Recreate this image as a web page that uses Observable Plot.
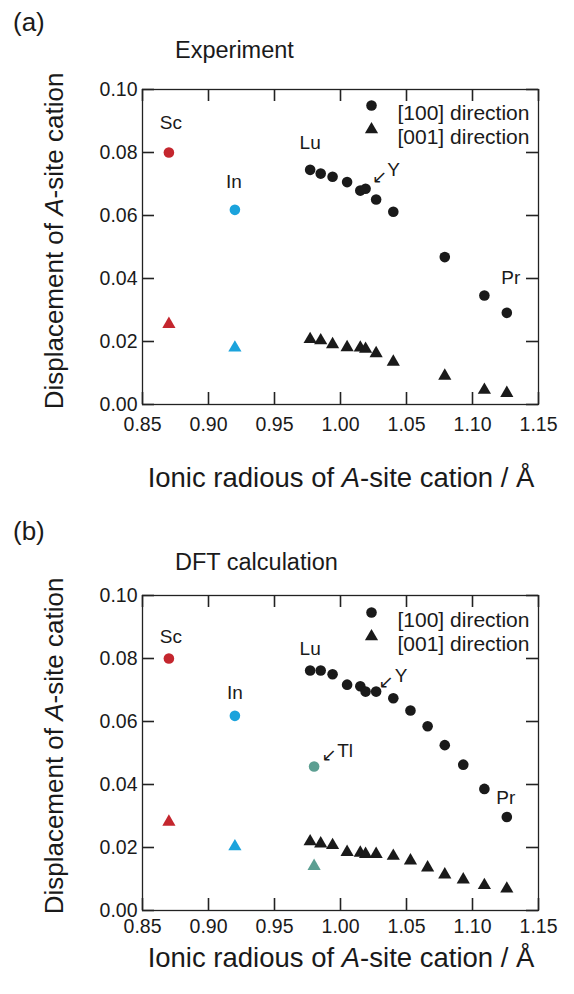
<!DOCTYPE html>
<html><head><meta charset="utf-8">
<script src="https://cdn.jsdelivr.net/npm/d3@7"></script>
<script src="https://cdn.jsdelivr.net/npm/@observablehq/plot@0.6"></script>
<style>
html,body{margin:0;padding:0;background:#fff;}
#chart svg{display:block;}
</style></head><body><div id="chart"></div>
<script>
// ---------- shared axis data ----------
const xTicks = [0.85, 0.90, 0.95, 1.00, 1.05, 1.10, 1.15];
const yTicks = [0.00, 0.02, 0.04, 0.06, 0.08, 0.10];
const legendLabels = ["[100] direction", "[001] direction"];

// ---------- panel (a) Experiment ----------
const radiusA = [0.977, 0.985, 0.994, 1.005, 1.015, 1.019, 1.027, 1.040, 1.079, 1.109, 1.126];
const dir100A = [0.0745, 0.0733, 0.0723, 0.0706, 0.0679, 0.0685, 0.0651, 0.0612, 0.0468, 0.0346, 0.0291];
const dir001A = [0.0207, 0.0203, 0.0191, 0.0181, 0.0180, 0.0176, 0.0162, 0.0135, 0.0091, 0.0046, 0.0036];
const specialNamesA = ["Sc", "In"];
const specialRadiusA = [0.870, 0.920];
const special100A = [0.0800, 0.0618];
const special001A = [0.0255, 0.0180];
const annotNamesA = ["Sc", "In", "Lu", "Y", "Pr"];
const annotRadiusA = [0.870, 0.920, 0.977, 1.019, 1.126];

// ---------- panel (b) DFT calculation ----------
const radiusB = [0.977, 0.985, 0.994, 1.005, 1.015, 1.019, 1.027, 1.040, 1.053, 1.066, 1.079, 1.093, 1.109, 1.126];
const dir100B = [0.0762, 0.0762, 0.0750, 0.0717, 0.0712, 0.0695, 0.0695, 0.0674, 0.0635, 0.0585, 0.0525, 0.0463, 0.0386, 0.0297];
const dir001B = [0.0219, 0.0212, 0.0207, 0.0185, 0.0183, 0.0179, 0.0179, 0.0173, 0.0158, 0.0136, 0.0114, 0.0098, 0.0080, 0.0069];
const specialNamesB = ["Sc", "In", "Tl"];
const specialRadiusB = [0.870, 0.920, 0.980];
const special100B = [0.0800, 0.0618, 0.0457];
const special001B = [0.0281, 0.0203, 0.0141];
const annotNamesB = ["Sc", "In", "Lu", "Y", "Tl", "Pr"];
const annotRadiusB = [0.870, 0.920, 0.977, 1.027, 0.980, 1.126];

// ---------- styles ----------
const FONT = "'Liberation Sans', Arial, Helvetica, sans-serif";
const palette = {Sc: "#c4262e", In: "#1ba3dc", Tl: "#5c9f92"};
const INK = "#1a1a1a";
const LINE = "#222";
const W = 574, H = 497, ML = 142, MR = 36, TICK = 12;

function panel(cfg) {
  const fw = W - ML - MR;
  const fh = H - cfg.mt - cfg.mb;
  const allR = cfg.radius.concat(cfg.sRadius);
  const all100 = cfg.d100.concat(cfg.s100);
  const annot = cfg.annotNames.map((name, i) => {
    const r = cfg.annotRadius[i];
    const j = allR.indexOf(r);
    return {name, x: r, y: all100[j]};
  });
  const idx = d3.range(cfg.radius.length);
  const sidx = d3.range(cfg.sNames.length);
  const fmt = d3.format(".2f");
  const marks = [
    Plot.frame({stroke: LINE, strokeWidth: 1.3}),
    // inward ticks on all four sides
    Plot.ruleX(xTicks, {x: d => d, insetTop: fh - TICK, stroke: LINE, strokeWidth: 1.6}),
    Plot.ruleX(xTicks, {x: d => d, insetBottom: fh - TICK, stroke: LINE, strokeWidth: 1.6}),
    Plot.ruleY(yTicks, {y: d => d, insetRight: fw - TICK, stroke: LINE, strokeWidth: 1.6}),
    Plot.ruleY(yTicks, {y: d => d, insetLeft: fw - TICK, stroke: LINE, strokeWidth: 1.6}),
    // tick labels
    Plot.axisX(xTicks, {anchor: "bottom", tickSize: 0, tickPadding: cfg.xPad, tickFormat: fmt, label: null, fill: INK}),
    Plot.axisY(yTicks, {anchor: "left", tickSize: 0, tickPadding: 5, tickFormat: fmt, label: null, fill: INK}),
    // [100] circles and [001] triangles
    Plot.dot(idx, {x: i => cfg.radius[i], y: i => cfg.d100[i], symbol: "circle", r: 5.3, fill: INK}),
    Plot.dot(idx, {x: i => cfg.radius[i], y: i => cfg.d001[i], symbol: "triangle", r: 4.9, fill: INK}),
    Plot.dot(sidx, {x: i => cfg.sRadius[i], y: i => cfg.s100[i], symbol: "circle", r: 5.3, fill: i => palette[cfg.sNames[i]]}),
    Plot.dot(sidx, {x: i => cfg.sRadius[i], y: i => cfg.s001[i], symbol: "triangle", r: 4.9, fill: i => palette[cfg.sNames[i]]}),
    // legend
    Plot.dot([legendLabels[0]], {frameAnchor: "top-right", dx: -167, dy: cfg.legDy[0], symbol: "circle", r: 5.3, fill: INK}),
    Plot.dot([legendLabels[1]], {frameAnchor: "top-right", dx: -167, dy: cfg.legDy[1], symbol: "triangle", r: 4.9, fill: INK}),
    Plot.text([legendLabels[0]], {frameAnchor: "top-right", dx: -141, dy: cfg.legDy[0], text: d => d, textAnchor: "start", fontSize: 21, fill: INK}),
    Plot.text([legendLabels[1]], {frameAnchor: "top-right", dx: -141, dy: cfg.legDy[1], text: d => d, textAnchor: "start", fontSize: 21, fill: INK})
  ];
  for (const a of annot) {
    const [dx, dy] = cfg.offsets[a.name];
    marks.push(Plot.text([a], {x: "x", y: "y", text: "name", dx, dy, fontSize: 19, fill: INK}));
    if (cfg.arrows[a.name]) {
      const [ax, ay] = cfg.arrows[a.name];
      marks.push(Plot.text([a], {x: "x", y: "y", text: () => "\u2199", dx: ax, dy: ay, fontSize: 18, fontFamily: "DejaVu Sans", fill: INK}));
    }
  }
  const svg = Plot.plot({
    width: W, height: H,
    marginLeft: ML, marginRight: MR, marginTop: cfg.mt, marginBottom: cfg.mb,
    x: {domain: [0.85, 1.15]},
    y: {domain: [0, 0.10]},
    style: {fontFamily: FONT, fontSize: "19.5px", background: "#fff"},
    marks
  });
  const s = d3.select(svg);
  const g = s.append("g").attr("font-family", FONT).attr("fill", INK).attr("text-anchor", "start");
  g.append("text").attr("x", 13).attr("y", cfg.letterY).attr("font-size", 26).attr("text-anchor", "start").text(cfg.letter);
  g.append("text").attr("x", 175).attr("y", cfg.titleY).attr("font-size", 23.5).attr("text-anchor", "start").text(cfg.title);
  const xl = g.append("text").attr("x", 341).attr("y", cfg.xLabY).attr("font-size", 27.5).attr("text-anchor", "middle");
  xl.append("tspan").text("Ionic radious of ");
  xl.append("tspan").attr("font-style", "italic").text("A");
  xl.append("tspan").text("-site cation / \u00c5");
  const yl = g.append("text").attr("transform", `translate(63,${cfg.yLabY}) rotate(-90)`).attr("font-size", 26).attr("text-anchor", "middle");
  yl.append("tspan").text("Displacement of ");
  yl.append("tspan").attr("font-style", "italic").text("A");
  yl.append("tspan").text("-site cation");
  return svg;
}

const root = document.getElementById("chart");
root.appendChild(panel({
  radius: radiusA, d100: dir100A, d001: dir001A,
  sNames: specialNamesA, sRadius: specialRadiusA, s100: special100A, s001: special001A,
  annotNames: annotNamesA, annotRadius: annotRadiusA,
  offsets: {Sc: [2, -30], In: [-1, -28], Lu: [0, -27], Y: [28, -19], Pr: [4, -35]},
  arrows: {Y: [14, -11]},
  mt: 89, mb: 93, xPad: 13, legDy: [16, 40],
  letter: "(a)", letterY: 31, title: "Experiment", titleY: 58, xLabY: 487, yLabY: 241
}));
root.appendChild(panel({
  radius: radiusB, d100: dir100B, d001: dir001B,
  sNames: specialNamesB, sRadius: specialRadiusB, s100: special100B, s001: special001B,
  annotNames: annotNamesB, annotRadius: annotRadiusB,
  offsets: {Sc: [2, -22], In: [0, -23], Lu: [0, -22], Y: [25, -16], Tl: [31, -16], Pr: [-1, -19]},
  arrows: {Y: [10, -9], Tl: [15, -11]},
  mt: 98, mb: 84, xPad: 9, legDy: [17, 41],
  letter: "(b)", letterY: 43, title: "DFT calculation", titleY: 73, xLabY: 470, yLabY: 249
}));
</script></body></html>
